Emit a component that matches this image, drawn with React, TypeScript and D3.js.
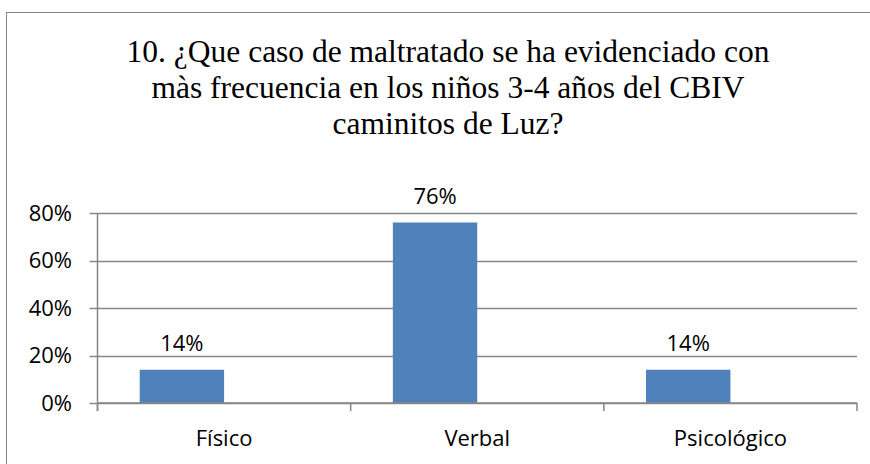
import React from "react";
import * as d3 from "d3";

// chart data
const categories = ["Físico", "Verbal", "Psicológico"];
const seriesNames = ["Serie1", "Serie2"];
const serie1Values = [0.14, 0.76, 0.14];
const serie2Values: (number | null)[] = [null, null, null];
const yTicks = [0, 0.2, 0.4, 0.6, 0.8];
const titleLines = [
    "10. ¿Que caso de maltratado se ha evidenciado con",
    "màs frecuencia en los niños 3-4 años del CBIV",
    "caminitos de Luz?"
];

const width = 870;
const height = 464;
const margin = {top: 213, right: 13, bottom: 61, left: 97.5};
const gridColor = "#868686";
const barColor = "#4F81BD";
const labelFont = "'Open Sans', sans-serif";

export default function App() {
    const x = d3.scaleBand<string>()
        .domain(categories)
        .range([margin.left, width - margin.right])
        .padding(0);

    const inner = d3.scaleBand<string>()
        .domain(seriesNames)
        .range([0, x.bandwidth()])
        .paddingInner(0)
        .paddingOuter(0.5);

    const y = d3.scaleLinear()
        .domain([0, 0.8])
        .range([height - margin.bottom, margin.top]);

    const fmt = d3.format(".0%");
    const y0 = y(0);
    const series = [serie1Values, serie2Values];

    return (
        <div style={{position: "fixed", left: 0, top: 0}}>
            <svg width={width} height={height} style={{display: "block", background: "#fff"}}>
                {/* chart border, runs off the right and bottom of the picture */}
                <rect x={6.5} y={12.5} width={900} height={500} fill="#fff" stroke={gridColor} strokeWidth={1}/>

                <g fontFamily="'Liberation Serif', 'Times New Roman', serif" fontSize={31.5} textAnchor="middle" fill="#000">
                    {titleLines.map((t, i) => (
                        <text key={i} x={448} y={62 + i * 36}>{t}</text>
                    ))}
                </g>

                {/* gridlines + y ticks */}
                {yTicks.map(t => (
                    <g key={t}>
                        <line x1={margin.left - 8} x2={width - margin.right} y1={Math.round(y(t)) + 0.5} y2={Math.round(y(t)) + 0.5}
                              stroke={gridColor} strokeWidth={1.5}/>
                        <text x={72} y={y(t)} dy="0.36em" textAnchor="end" fontFamily={labelFont} fontSize={22} fill="#000">
                            {fmt(t)}
                        </text>
                    </g>
                ))}

                {/* bars */}
                {series.map((vals, si) => vals.map((v, ci) => v == null ? null : (
                    <rect key={si + "-" + ci}
                          x={x(categories[ci])! + inner(seriesNames[si])!}
                          y={y(v)}
                          width={inner.bandwidth()}
                          height={y0 - y(v)}
                          fill={barColor}/>
                )))}

                {/* y axis */}
                <line x1={margin.left} x2={margin.left} y1={margin.top} y2={y0 + 8} stroke={gridColor} strokeWidth={1.5}/>
                {/* x axis */}
                <line x1={margin.left} x2={width - margin.right} y1={y0} y2={y0} stroke={gridColor} strokeWidth={1.5}/>
                {[...categories.map(c => x(c)!), width - margin.right].map((tx, i) => (
                    <line key={i} x1={tx} x2={tx} y1={y0} y2={y0 + 8} stroke={gridColor} strokeWidth={1.5}/>
                ))}

                {/* data labels */}
                {serie1Values.map((v, ci) => (
                    <text key={ci}
                          x={x(categories[ci])! + inner(seriesNames[0])! + inner.bandwidth() / 2}
                          y={y(v) - 19}
                          textAnchor="middle" fontFamily={labelFont} fontSize={22} fill="#000">
                        {fmt(v)}
                    </text>
                ))}

                {/* category labels */}
                {categories.map(c => (
                    <text key={c} x={x(c)! + x.bandwidth() / 2} y={446} textAnchor="middle"
                          fontFamily={labelFont} fontSize={22} fill="#000">
                        {c}
                    </text>
                ))}
            </svg>
        </div>
    );
}
